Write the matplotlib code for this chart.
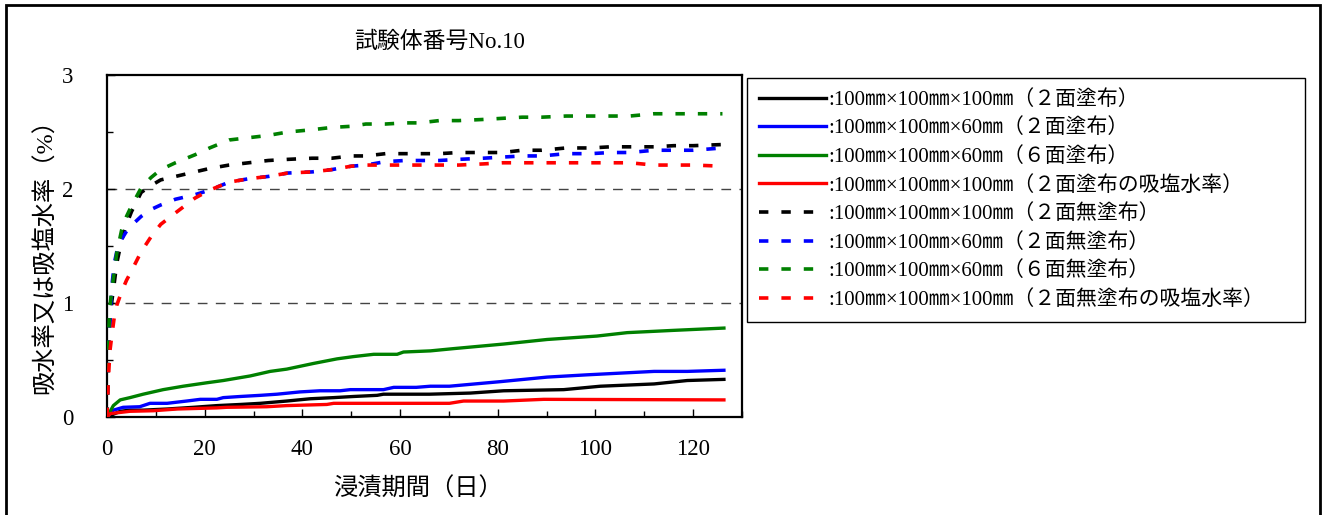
"""試験体番号No.10: 吸水率 / 吸塩水率 vs 浸漬期間."""

import matplotlib
matplotlib.use("Agg")
import matplotlib.pyplot as plt
from matplotlib.patches import Rectangle
from matplotlib.ticker import MultipleLocator

plt.rcParams['font.family'] = ['Liberation Serif', 'Noto Sans CJK JP', 'DejaVu Sans']

# ---- data -------------------------------------------------------------
# solid lines: coated specimens
black_x = [0, 2.7, 4.7, 7.4, 12.3, 17.7, 22.5, 27.3, 31.4, 36.8, 41.6, 46.4, 50.5, 55.3, 56.6,
           66, 74.4, 81.2, 93.5, 101, 112, 118.8, 126.3]
black_y = [0, 0.05, 0.06, 0.06, 0.07, 0.085, 0.10, 0.11, 0.12, 0.14, 0.16, 0.17, 0.18, 0.19, 0.20,
           0.20, 0.21, 0.23, 0.24, 0.27, 0.29, 0.32, 0.33]

blue_x = [0, 1.3, 3.3, 6.7, 8.8, 12.3, 16.3, 19.1, 22.5, 23.8, 27.3, 31.4, 34.8, 39.5, 43.6, 47.7,
          49.8, 56.6, 58.7, 63.3, 66.2, 70.1, 80.5, 90.1, 98.3, 112, 118.8, 126.3]
blue_y = [0, 0.06, 0.085, 0.09, 0.12, 0.12, 0.14, 0.155, 0.155, 0.17, 0.18, 0.19, 0.20, 0.22, 0.23, 0.23,
          0.24, 0.24, 0.26, 0.26, 0.27, 0.27, 0.31, 0.35, 0.37, 0.40, 0.40, 0.41]

green_x = [0, 1.3, 2.7, 4.7, 7.4, 11.5, 15.6, 20.4, 23.8, 29.3, 33.4, 36.8, 42.3, 47.1, 50.5, 54.6,
           59.4, 60.7, 66.2, 71, 81.2, 90.1, 100.3, 106.5, 116, 126.3]
green_y = [0, 0.10, 0.15, 0.17, 0.20, 0.24, 0.27, 0.30, 0.32, 0.36, 0.40, 0.42, 0.47, 0.51, 0.53, 0.55,
           0.55, 0.57, 0.58, 0.60, 0.64, 0.68, 0.71, 0.74, 0.76, 0.78]

red_x = [0, 0.7, 4.7, 9.5, 14.3, 22.5, 24.5, 32.7, 36.8, 45, 46.4, 70.1, 73, 81.2, 89.4, 126.3]
red_y = [0, 0.03, 0.05, 0.055, 0.07, 0.08, 0.085, 0.09, 0.10, 0.11, 0.12, 0.12, 0.14, 0.14, 0.155, 0.15]

# dashed lines: uncoated specimens (common day grid)
days_d = [0, 0.3, 0.6, 1, 1.5, 2, 3, 4, 5, 7, 9, 11, 14, 18, 21, 25, 29, 33, 37, 42, 46, 50, 53,
          57, 61, 64, 68, 72, 77, 81, 85, 89, 94, 99, 103, 107, 112, 116, 120, 126]
black_d = [0, 0.60, 0.85, 1.02, 1.18, 1.35, 1.55, 1.69, 1.80, 1.97, 2.03, 2.08, 2.11, 2.15, 2.18,
           2.21, 2.23, 2.25, 2.26, 2.27, 2.27, 2.29, 2.29, 2.31, 2.31, 2.31, 2.31, 2.32, 2.32, 2.32,
           2.34, 2.34, 2.36, 2.36, 2.37, 2.37, 2.37, 2.38, 2.38, 2.39]
blue_d = [0, 0.55, 0.85, 1.15, 1.35, 1.45, 1.56, 1.63, 1.68, 1.76, 1.82, 1.86, 1.91, 1.95, 1.99,
          2.06, 2.09, 2.11, 2.14, 2.15, 2.17, 2.20, 2.21, 2.24, 2.25, 2.25, 2.25, 2.26, 2.27, 2.28,
          2.29, 2.29, 2.31, 2.31, 2.32, 2.32, 2.34, 2.34, 2.34, 2.36]
green_d = [0, 0.70, 0.97, 1.12, 1.28, 1.44, 1.64, 1.76, 1.85, 2.01, 2.10, 2.17, 2.23, 2.30, 2.36,
           2.43, 2.45, 2.47, 2.50, 2.52, 2.54, 2.55, 2.57, 2.57, 2.58, 2.58, 2.60, 2.60, 2.61, 2.62,
           2.63, 2.63, 2.64, 2.64, 2.64, 2.64, 2.66, 2.66, 2.66, 2.66]
red_d = [0, 0.35, 0.58, 0.72, 0.88, 0.98, 1.10, 1.20, 1.28, 1.45, 1.58, 1.69, 1.79, 1.92, 1.99,
         2.06, 2.09, 2.11, 2.14, 2.15, 2.17, 2.20, 2.21, 2.21, 2.21, 2.21, 2.21, 2.21, 2.22, 2.23,
         2.23, 2.23, 2.23, 2.23, 2.23, 2.23, 2.21, 2.21, 2.21, 2.20]

labels = [
    ":100㎜×100㎜×100㎜（２面塗布）",
    ":100㎜×100㎜×60㎜（２面塗布）",
    ":100㎜×100㎜×60㎜（６面塗布）",
    ":100㎜×100㎜×100㎜（２面塗布の吸塩水率）",
    ":100㎜×100㎜×100㎜（２面無塗布）",
    ":100㎜×100㎜×60㎜（２面無塗布）",
    ":100㎜×100㎜×60㎜（６面無塗布）",
    ":100㎜×100㎜×100㎜（２面無塗布の吸塩水率）",
]
colors = ["black", "#0000ff", "#008000", "#ff0000"]

TITLE = "試験体番号No.10"
XLABEL = "浸漬期間（日）"
YLABEL = "吸水率又は吸塩水率（%）"


def main():
    W, H = 1323, 515
    fig = plt.figure(figsize=(W / 100, H / 100), dpi=100)
    ax = fig.add_axes([107 / W, 1 - 417 / H, (742 - 107) / W, (417 - 75) / H])

    # outer frame of the figure
    fig.patches.append(Rectangle((6 / W, -0.01), (1320 - 6) / W, 1 - 5 / H + 0.01,
                                 transform=fig.transFigure, fill=False, lw=2, ec="black"))

    for yv in (1, 2):
        ax.axhline(yv, color="#444444", lw=1, ls=(0, (7, 6)), zorder=1)

    solid = [(black_x, black_y), (blue_x, blue_y), (green_x, green_y), (red_x, red_y)]
    dashed = [black_d, blue_d, green_d, red_d]
    handles = []
    for (xs, ys), c, lab in zip(solid, colors, labels[:4]):
        h, = ax.plot(xs, ys, color=c, lw=2.4, label=lab, zorder=3)
        handles.append(h)
    for ys, c, lab in zip(dashed, colors, labels[4:]):
        h, = ax.plot(days_d, ys, color=c, lw=2.6, ls=(0, (2.6, 3.6)), label=lab, zorder=3)
        handles.append(h)

    ax.set_xlim(0, 130)
    ax.set_ylim(0, 3)
    ax.xaxis.set_major_locator(MultipleLocator(20))
    ax.xaxis.set_minor_locator(MultipleLocator(10))
    ax.yaxis.set_major_locator(MultipleLocator(1))
    ax.yaxis.set_minor_locator(MultipleLocator(0.5))
    ax.tick_params(which="both", direction="in", top=False, right=False, labelsize=16.5)
    ax.tick_params(which="major", length=6, width=1)
    ax.tick_params(which="minor", length=4, width=1)
    ax.tick_params(axis="y", pad=24)
    ax.tick_params(axis="x", pad=16)
    for sp in ax.spines.values():
        sp.set_linewidth(1.6)

    fig.text(440 / W, 1 - 42 / H, TITLE, ha="center", va="center", fontsize=16.5)
    fig.text(45 / W, 1 - 250 / H, YLABEL, ha="center", va="center", rotation=90, fontsize=17.5)
    fig.text(418 / W, 1 - 489 / H, XLABEL, ha="center", va="center", fontsize=17.5)

    fig.legend(handles=handles, loc="upper left",
               bbox_to_anchor=(747 / W, 1 - 318 / H, (1305 - 747) / W, (318 - 78) / H),
               mode="expand", ncol=1, fontsize=15, frameon=True, fancybox=False,
               edgecolor="black", framealpha=1, handlelength=3.2, handletextpad=0.15,
               labelspacing=0.42, borderpad=0.58, borderaxespad=0)
    fig.legends[0].get_frame().set_linewidth(1.0)

    fig.savefig("out.png", dpi=100)


if __name__ == "__main__":
    main()
